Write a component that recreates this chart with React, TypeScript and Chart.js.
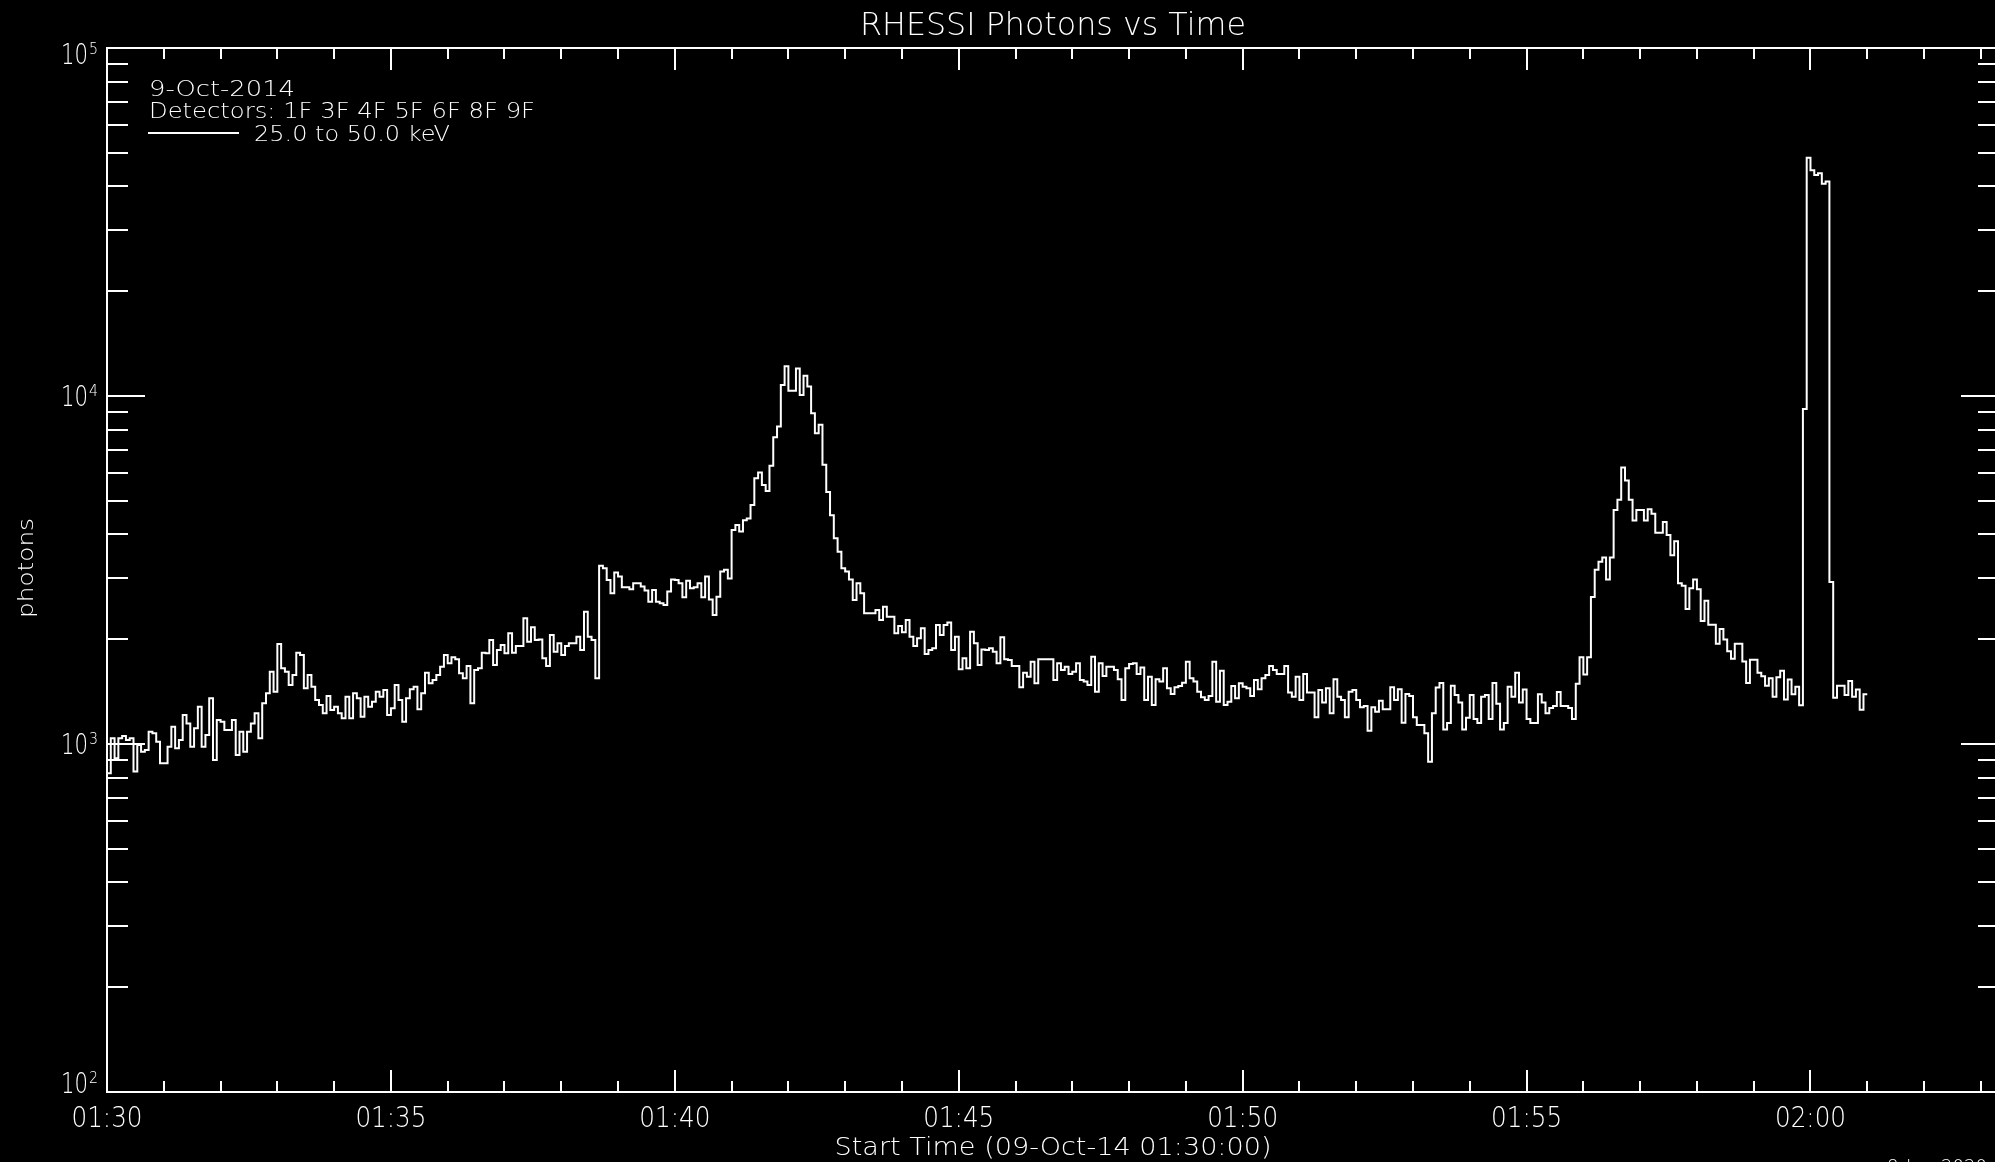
import React, { useEffect, useRef } from 'react';
import { Chart, registerables } from 'chart.js';

Chart.register(...registerables);

// ---- data (RHESSI 25-50 keV, 4 s bins starting 09-Oct-14 01:30:00) ----
const START_LABEL = '09-Oct-14 01:30:00';
const BIN_SECONDS = 4;

const countsA = [
  824, 1038, 910, 1038, 1054, 1027, 1038, 833, 993, 950,
  961, 1085, 1073, 1015, 880, 880, 982, 1121, 972, 1027,
  1211, 1146, 982, 1109, 1280, 982, 1061, 1353, 900, 1172,
  1159, 1097, 1097, 1172, 930, 1085, 950, 1085, 1146, 1225,
  1038, 1309, 1399, 1613, 1414, 1938, 1651, 1613, 1478, 1579,
  1830, 1802, 1446, 1579, 1461, 1338, 1294, 1225, 1374, 1252,
  1280, 1225, 1185, 1367, 1185, 1399, 1353, 1198, 1367, 1280,
  1323, 1414, 1367, 1429, 1211, 1266, 1478, 1338, 1159, 1353,
  1436, 1461, 1258, 1399, 1603, 1494, 1527, 1579, 1668, 1802,
  1706, 1775, 1751, 1596, 1544, 1676, 1309, 1631, 1651, 1830,
  1822, 1990, 1687, 1862, 1926, 1822, 2081, 1830, 1912, 1912,
  2298, 1967, 2165, 1990, 1998, 1763, 1676,
];

const countsB = [
  2056, 1842, 1947, 1802, 1912, 1947, 1947, 2034, 1862, 2400,
  2034, 1990, 1544, 3250, 3199, 2960, 2711, 3109, 3027, 2821,
  2821, 2784, 2898, 2898, 2834, 2759, 2563, 2771, 2563, 2536,
  2507, 2741, 2972, 2960, 2898, 2640, 2946, 2803, 2821, 2898,
  2640, 3027, 2602, 2348, 2649, 3129, 3165, 2990, 4122, 4257,
  4077, 4395, 4444, 4862, 5807, 6027, 5546, 5336, 6301, 7615,
  8172, 10755, 12185, 10357, 10357, 12000, 10067, 11426, 10641, 8926,
  7818, 8262, 6341, 5300, 4540, 3903, 3571, 3199, 3129, 2972,
  2592, 2898, 2711, 2374, 2374, 2374, 2425, 2272, 2479, 2320,
  2320, 2081, 2184, 2095, 2272, 2034, 1912, 2012, 2150, 1813,
  1862, 1883, 2199, 2056, 2199, 2233, 1862, 2034, 1639, 1763,
  1651, 2103, 1947, 1687, 1870, 1862, 1883,
];

const countsC = [
  1842, 1706, 2025, 1751, 1743, 1676, 1676, 1455, 1603, 1561,
  1724, 1494, 1751, 1751, 1751, 1751, 1527, 1706, 1631, 1668,
  1590, 1613, 1706, 1527, 1511, 1478, 1782, 1414, 1706, 1568,
  1668, 1668, 1631, 1535, 1338, 1651, 1698, 1706, 1590, 1660,
  1338, 1561, 1294, 1535, 1511, 1651, 1446, 1392, 1455, 1468,
  1500, 1724, 1544, 1511, 1414, 1362, 1338, 1374, 1724, 1323,
  1624, 1294, 1323, 1468, 1353, 1494, 1461, 1446, 1374, 1527,
  1436, 1544, 1579, 1676, 1631, 1590, 1590, 1676, 1405, 1367,
  1561, 1338, 1590, 1405, 1405, 1193, 1429, 1315, 1446, 1225,
  1535, 1367, 1338, 1193, 1414, 1429, 1338, 1275, 1286, 1092,
  1275, 1238, 1332, 1258, 1258, 1455, 1338, 1436, 1151, 1392,
  1374, 1193, 1134, 1134, 1073, 889, 1225,
];

const countsD = [
  1453, 1496, 1100, 1150, 1470, 1384, 1317, 1100, 1190, 1384,
  1180, 1150, 1367, 1384, 1180, 1496, 1305, 1100, 1150, 1460,
  1367, 1603, 1317, 1435, 1180, 1150, 1150, 1390, 1317, 1225,
  1270, 1286, 1411, 1286, 1286, 1270, 1180, 1489, 1776, 1583,
  1776, 2647, 3167, 3338, 3437, 2970, 3437, 4700, 5036, 6233,
  5718, 5036, 4391, 4700, 4700, 4391, 4725, 4587, 4045, 4045,
  4348, 3986, 3487, 3823, 2898, 2849, 2443, 2803, 2970, 2783,
  2257, 2581, 2203, 2203, 1940, 2139, 1998, 1848, 1759, 1940,
  1940, 1725, 1496, 1745, 1745, 1603, 1565, 1470, 1544, 1367,
  1555, 1623, 1343, 1533, 1390, 1460, 1292, 9176, 48360, 44530,
  43130, 43650, 40740, 41370, 2919, 1357, 1470, 1470, 1383, 1518,
  1367, 1435, 1255, 1390,
];

const xTickLabels = ['01:30', '01:35', '01:40', '01:45', '01:50', '01:55', '02:00'];
const xTickMinutes = [0, 5, 10, 15, 20, 25, 30];
const yDecadeExponents = [2, 3, 4, 5];
const legendLines = ['9-Oct-2014', 'Detectors: 1F 3F 4F 5F 6F 8F 9F'];
const seriesLabel = '25.0 to 50.0 keV';
const chartTitle = 'RHESSI Photons vs Time';
const xTitle = `Start Time (${START_LABEL})`;
const yTitle = 'photons';
const footerText = '8-Jun-2020';

// axis range (minutes after 01:30:00)
const X_MIN = 0;
const X_MAX = 33.32;
const Y_MIN = 100;
const Y_MAX = 100000;

const FONT = '"DejaVu Sans", "Liberation Sans", Arial, sans-serif';
const WEIGHT = '200';

function drawText(
  ctx: CanvasRenderingContext2D,
  s: string,
  x: number,
  y: number,
  size: number,
  align: CanvasTextAlign,
  width?: number
) {
  ctx.font = `${WEIGHT} ${size}px ${FONT}`;
  ctx.textAlign = align;
  ctx.textBaseline = 'alphabetic';
  const w = ctx.measureText(s).width;
  const sx = width ? width / w : 1;
  ctx.save();
  ctx.translate(x, y);
  ctx.scale(sx, 1);
  ctx.fillText(s, 0, 0);
  ctx.restore();
}

function seg(ctx: CanvasRenderingContext2D, x1: number, y1: number, x2: number, y2: number) {
  ctx.beginPath();
  ctx.moveTo(x1, y1);
  ctx.lineTo(x2, y2);
  ctx.stroke();
}

const idlFrame = {
  id: 'idlFrame',
  beforeDraw(chart: any) {
    const ctx: CanvasRenderingContext2D = chart.ctx;
    ctx.save();
    ctx.fillStyle = '#000';
    ctx.fillRect(0, 0, chart.width, chart.height);
    ctx.restore();
  },
  afterDraw(chart: any) {
    const ctx: CanvasRenderingContext2D = chart.ctx;
    const a = chart.chartArea;
    const xs = chart.scales.x;
    const ys = chart.scales.y;
    ctx.save();
    ctx.strokeStyle = '#fff';
    ctx.fillStyle = '#fff';
    ctx.lineWidth = 2;
    ctx.lineCap = 'butt';

    // frame
    ctx.strokeRect(a.left, a.top, a.right - a.left, a.bottom - a.top);

    // x ticks (every minute, major every 5)
    for (let m = Math.ceil(X_MIN); m <= X_MAX; m++) {
      const px = Math.round(xs.getPixelForValue(m));
      const len = m % 5 === 0 ? 22 : 11;
      seg(ctx, px, a.bottom, px, a.bottom - len);
      seg(ctx, px, a.top, px, a.top + len);
    }

    // y ticks (log)
    for (let e = 2; e <= 5; e++) {
      for (let k = 1; k <= 9; k++) {
        const v = k * Math.pow(10, e);
        if (v > Y_MAX) break;
        const py = Math.round(ys.getPixelForValue(v));
        const len = k === 1 ? 38 : 21;
        seg(ctx, a.left, py, a.left + len, py);
        seg(ctx, a.right, py, a.right - len, py);
      }
    }

    // x tick labels
    xTickLabels.forEach((lab, i) => {
      const px = xs.getPixelForValue(xTickMinutes[i]);
      drawText(ctx, lab, px, a.bottom + 35, 28, 'center', 71);
    });

    // y tick labels 10^n
    yDecadeExponents.forEach((e) => {
      const py = ys.getPixelForValue(Math.pow(10, e));
      let base = py + 10;
      if (base - 20 < a.top - 4) base = a.top - 4 + 20;
      if (base > a.bottom + 1) base = a.bottom + 1;
      drawText(ctx, '10', 88, base, 28, 'right', 27);
      drawText(ctx, String(e), 89, base - 10, 16, 'left', 9);
    });

    // title
    drawText(ctx, chartTitle, (a.left + a.right) / 2, 35, 32, 'center', 386);

    // x axis title
    drawText(ctx, xTitle, (a.left + a.right) / 2, 1155, 25, 'center', 437);

    // y axis title (rotated)
    ctx.save();
    ctx.translate(33, 568);
    ctx.rotate(-Math.PI / 2);
    drawText(ctx, yTitle, 0, 0, 22, 'center', 100);
    ctx.restore();

    // legend
    drawText(ctx, legendLines[0], 149, 96, 22, 'left', 146);
    drawText(ctx, legendLines[1], 149, 118, 22, 'left', 386);
    seg(ctx, 148, 133, 239, 133);
    drawText(ctx, seriesLabel, 254, 141, 22, 'left', 196);

    // footer (mostly cut off by page edge)
    drawText(ctx, footerText, 1887, 1173, 20, 'left', 100);

    ctx.restore();
  },
};

export default function App() {
  const ref = useRef<HTMLCanvasElement | null>(null);

  useEffect(() => {
    const canvas = ref.current;
    if (!canvas) return;
    const counts = [...countsA, ...countsB, ...countsC, ...countsD];
    const points = counts.map((c, i) => ({ x: (i * BIN_SECONDS) / 60, y: c }));
    points.push({ x: (counts.length * BIN_SECONDS) / 60, y: counts[counts.length - 1] });

    const chart = new Chart(canvas, {
      type: 'line',
      data: {
        datasets: [
          {
            label: seriesLabel,
            data: points,
            borderColor: '#ffffff',
            borderWidth: 2,
            pointRadius: 0,
            stepped: 'before',
            fill: false,
            tension: 0,
          },
        ],
      },
      options: {
        responsive: false,
        animation: false,
        devicePixelRatio: 1,
        events: [],
        layout: { padding: { left: 107, top: 48, right: 4, bottom: 70 } },
        plugins: {
          legend: { display: false },
          title: { display: false },
          tooltip: { enabled: false },
        },
        scales: {
          x: { type: 'linear', min: X_MIN, max: X_MAX, display: false },
          y: { type: 'logarithmic', min: Y_MIN, max: Y_MAX, display: false },
        },
      },
      plugins: [idlFrame],
    } as any);

    return () => chart.destroy();
  }, []);

  return (
    <div
      style={{
        position: 'absolute',
        left: 0,
        top: 0,
        width: 1995,
        height: 1162,
        overflow: 'hidden',
        background: '#000',
      }}
    >
      <canvas ref={ref} width={2003} height={1162} style={{ display: 'block' }} />
    </div>
  );
}
